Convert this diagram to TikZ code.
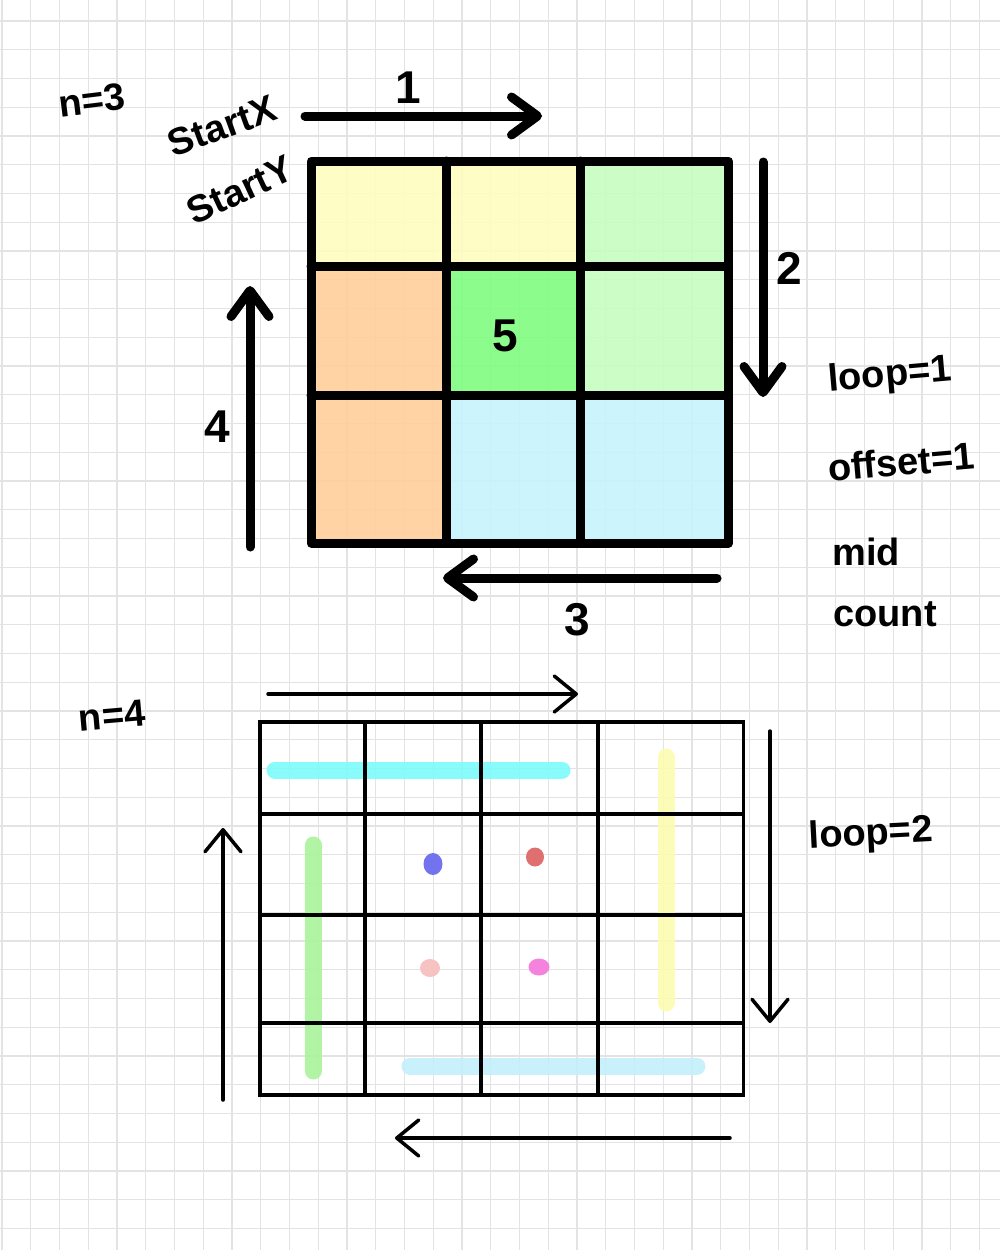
\documentclass[tikz,border=0pt]{standalone}
\usepackage{fontspec}
\setmainfont{Liberation Sans}
\usetikzlibrary{arrows.meta}

\definecolor{gridgray}{HTML}{E3E3E3}
\definecolor{cellyellow}{HTML}{FFFDC0}
\definecolor{cellgreen}{HTML}{C8FDC0}
\definecolor{cellorange}{HTML}{FFCF9A}
\definecolor{cellmid}{HTML}{80FD80}
\definecolor{cellblue}{HTML}{C6F3FD}
\definecolor{hlcyan}{HTML}{7EFBFB}
\definecolor{hlyellow}{HTML}{FCFBB0}
\definecolor{hlgreen}{HTML}{A9F59B}
\definecolor{hlblue}{HTML}{C3F0FB}
\definecolor{dotblue}{HTML}{7373F0}
\definecolor{dotred}{HTML}{E07070}
\definecolor{dotpink}{HTML}{F7C2C2}
\definecolor{dotmagenta}{HTML}{F582DC}

\begin{document}
\begin{tikzpicture}[x=1pt,y=-1pt,
  hand/.style={font=\fontsize{38}{38}\selectfont\bfseries,inner sep=0pt},
  digit/.style={font=\fontsize{46}{46}\selectfont\bfseries,inner sep=0pt},
  gridline/.style={gridgray,line width=1.2pt},
  bigline/.style={line width=9pt,line join=round,line cap=round},
  smallline/.style={line width=3.5pt},
  bigarrow/.style={line width=9pt,line cap=round,-{Straight Barb[length=26pt,width=38pt,round]}},
  smallarrow/.style={line width=3.5pt,line cap=round,-{Straight Barb[length=22pt,width=36pt,round]}},
  marker/.style={line width=17pt,line cap=round,opacity=0.9}]
  \useasboundingbox (0,0) rectangle (1000,1250);
  \fill[white] (0,0) rectangle (1000,1250);
  % paper grid
  \foreach \k in {0,...,34}
    \draw[gridline] ({2+28.75*\k},0) -- ({2+28.75*\k},1250);
  \foreach \k in {0,...,42}
    \draw[gridline] (0,{21+28.75*\k}) -- (1000,{21+28.75*\k});

  % n=3
  \fill[cellyellow,opacity=0.9] (311,161) rectangle (580.5,266);
  \fill[cellgreen,opacity=0.9] (580.5,161) rectangle (728.5,395);
  \fill[cellorange,opacity=0.9] (311,266) rectangle (446,543);
  \fill[cellmid,opacity=0.9] (446,266) rectangle (580.5,395);
  \fill[cellblue,opacity=0.9] (446,395) rectangle (728.5,543);
  \draw[bigline] (311,161) rectangle (728.5,543);
  \draw[bigline] (446,161) -- (446,543);
  \draw[bigline] (580.5,161) -- (580.5,543);
  \draw[bigline] (311,266) -- (728.5,266);
  \draw[bigline] (311,395) -- (728.5,395);

  \node[digit] (five) at (505,336) {5};
  \node[hand,rotate=7] (nthree) at (92,100) {n=3};
  \node[hand,rotate=20] (startx) at (222,126) {StartX};
  \node[hand,rotate=25] (starty) at (240,190) {StartY};
  \node[hand,rotate=5] (loopone) at (890,376) {loop=1};
  \node[hand,rotate=5] (offset) at (901,462) {offset=1};
  \node[hand] (mid) at (866,552) {mid};
  \node[hand] (count) at (885,614) {count};

  \coordinate (a1s) at (305,116);
  \coordinate (a1e) at (542,116);
  \coordinate (a2s) at (763,162);
  \coordinate (a2e) at (763,397);
  \coordinate (a3s) at (717,578);
  \coordinate (a3e) at (443,578);
  \coordinate (a4s) at (250,547);
  \coordinate (a4e) at (250,286);
  \draw[bigarrow] (a1s) -- (a1e);
  \draw[bigarrow] (a2s) -- (a2e);
  \draw[bigarrow] (a3s) -- (a3e);
  \draw[bigarrow] (a4s) -- (a4e);
  \node[digit] (one) at (408,88) {1};
  \node[digit] (two) at (789,268) {2};
  \node[digit] (three) at (577,620) {3};
  \node[digit] (four) at (217,427) {4};

  % n=4
  \draw[marker,hlcyan] (275,770) -- (562,770);
  \draw[marker,hlyellow] (666,757) -- (666,1003);
  \draw[marker,hlgreen] (313,845) -- (313,1071);
  \draw[marker,hlblue] (410,1066) -- (697,1066);
  \fill[dotblue] (433,864) ellipse [x radius=9.5,y radius=11];
  \fill[dotred] (535,857) ellipse [x radius=9,y radius=9.5];
  \fill[dotpink] (430,968) ellipse [x radius=10,y radius=9];
  \fill[dotmagenta] (539,967) ellipse [x radius=10.5,y radius=8.5];

  \draw[smallline] (260,722) rectangle (743.5,1095);
  \foreach \gx in {365,481,598}
    \draw[smallline] (\gx,722) -- (\gx,1095);
  \foreach \gy in {814,915,1023}
    \draw[smallline] (260,\gy) -- (743.5,\gy);

  \node[hand,rotate=5] (nfour) at (112,716) {n=4};
  \node[hand,rotate=3] (looptwo) at (871,835) {loop=2};

  \coordinate (b1s) at (268,694);
  \coordinate (b1e) at (578,694);
  \coordinate (b2s) at (770,731);
  \coordinate (b2e) at (770,1023);
  \coordinate (b3s) at (730,1138);
  \coordinate (b3e) at (395,1138);
  \coordinate (b4s) at (223,1100);
  \coordinate (b4e) at (223,828);
  \draw[smallarrow] (b1s) -- (b1e);
  \draw[smallarrow] (b2s) -- (b2e);
  \draw[smallarrow] (b3s) -- (b3e);
  \draw[smallarrow] (b4s) -- (b4e);
\end{tikzpicture}
\end{document}
